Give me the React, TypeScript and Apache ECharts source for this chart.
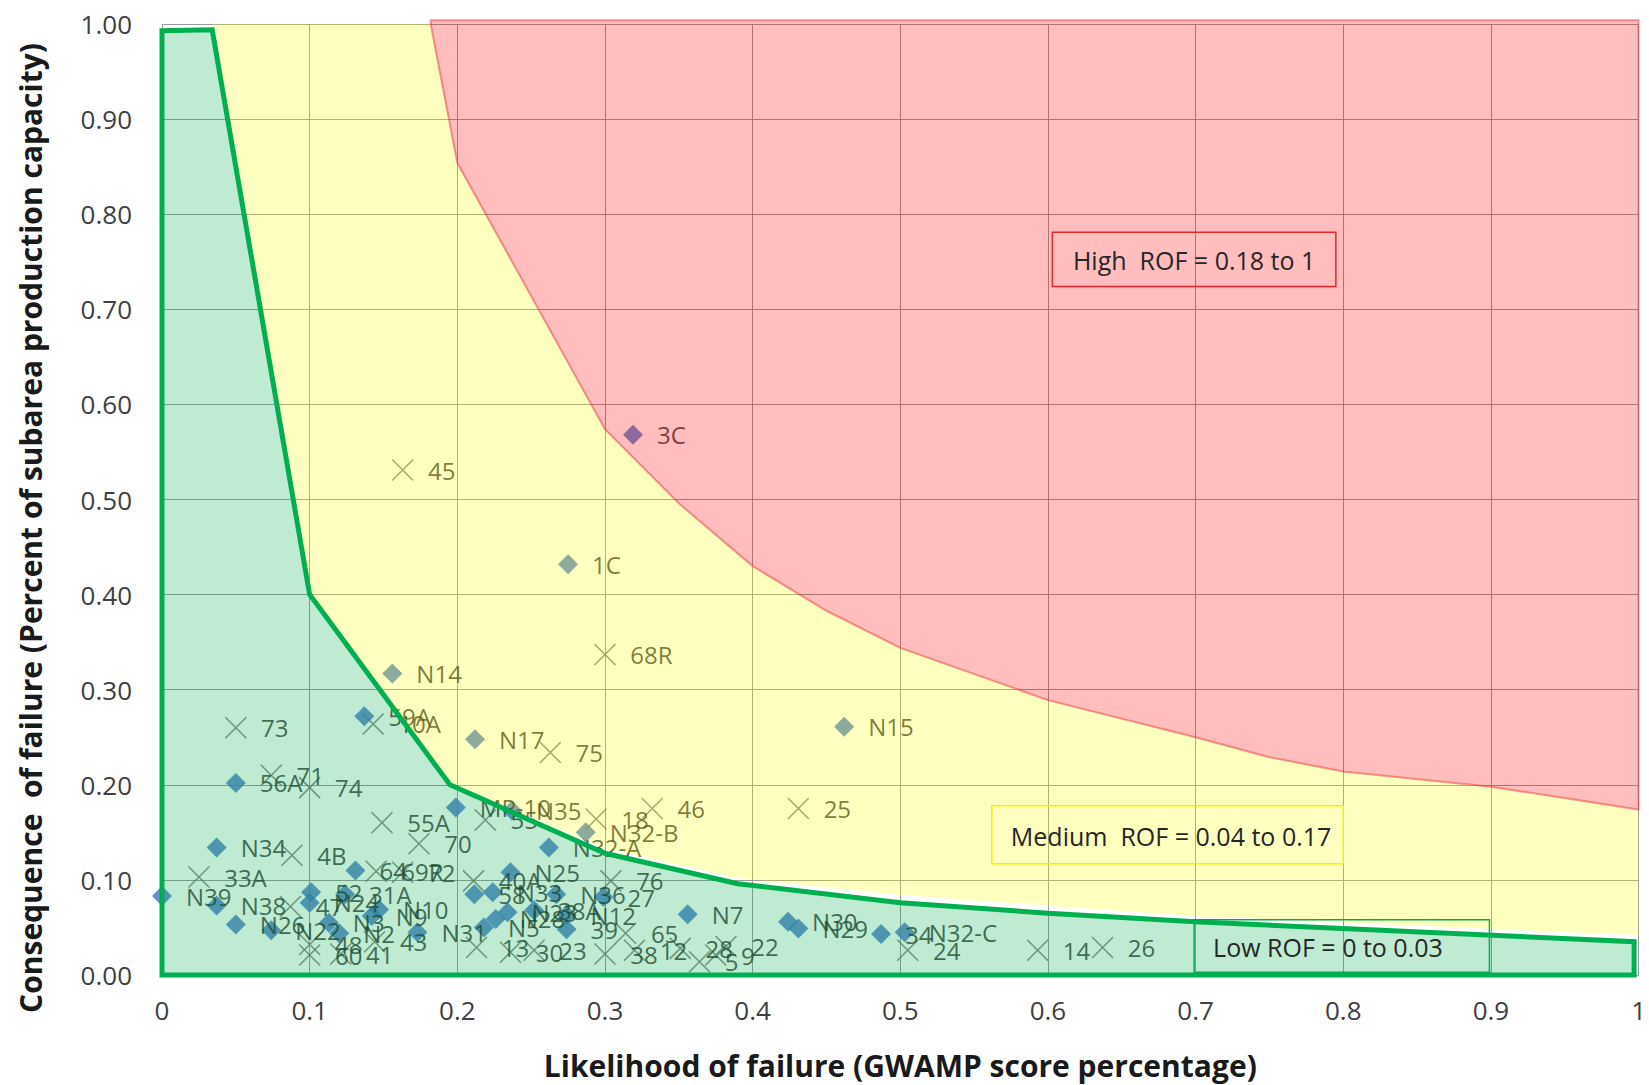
import { useEffect, useRef } from "react";
import * as echarts from "echarts";

// ---------- data ----------
// Diamond series: [label, likelihood, consequence]
const diamondPoints: [string, number, number][] = [
  ["3C", 0.319, 0.568],
  ["1C", 0.275, 0.432],
  ["N14", 0.156, 0.317],
  ["59A", 0.137, 0.272],
  ["N17", 0.212, 0.248],
  ["N15", 0.462, 0.261],
  ["56A", 0.05, 0.202],
  ["N34", 0.037, 0.134],
  ["N39", 0.0, 0.083],
  ["N38", 0.037, 0.073],
  ["N26", 0.05, 0.053],
  ["MP-10", 0.199, 0.176],
  ["N35", 0.237, 0.173],
  ["N32-B", 0.287, 0.15],
  ["N32-A", 0.262, 0.134],
  ["64", 0.131, 0.11],
  ["N25", 0.236, 0.108],
  ["52", 0.101, 0.087],
  ["N24", 0.1, 0.076],
  ["31A", 0.124, 0.085],
  ["N10", 0.147, 0.069],
  ["N22", 0.074, 0.047],
  ["N3", 0.113, 0.055],
  ["N2", 0.12, 0.044],
  ["N9", 0.142, 0.062],
  ["58", 0.2115, 0.085],
  ["N33", 0.224, 0.087],
  ["N36", 0.267, 0.085],
  ["27", 0.299, 0.082],
  ["N5", 0.218, 0.05],
  ["N28", 0.226, 0.059],
  ["N23", 0.234, 0.066],
  ["38A", 0.252, 0.068],
  ["N12", 0.274, 0.063],
  ["39", 0.274, 0.048],
  ["N31", 0.173, 0.045],
  ["N7", 0.356, 0.064],
  ["N30", 0.424, 0.056],
  ["N29", 0.431, 0.049],
  ["34", 0.487, 0.043],
  ["N32-C", 0.503, 0.045],
];

// Cross series: [label, likelihood, consequence]
const crossPoints: [string, number, number][] = [
  ["45", 0.163, 0.531],
  ["68R", 0.3, 0.337],
  ["10A", 0.143, 0.264],
  ["75", 0.263, 0.234],
  ["73", 0.05, 0.26],
  ["71", 0.074, 0.21],
  ["74", 0.1, 0.197],
  ["55A", 0.149, 0.16],
  ["55", 0.219, 0.163],
  ["18", 0.294, 0.164],
  ["46", 0.332, 0.175],
  ["25", 0.431, 0.175],
  ["70", 0.174, 0.138],
  ["4B", 0.088, 0.126],
  ["33A", 0.025, 0.103],
  ["69R", 0.145, 0.109],
  ["72", 0.163, 0.108],
  ["40A", 0.211, 0.099],
  ["76", 0.304, 0.099],
  ["47", 0.087, 0.072],
  ["48", 0.1, 0.032],
  ["60", 0.1, 0.021],
  ["41", 0.121, 0.022],
  ["43", 0.144, 0.035],
  ["13", 0.213, 0.029],
  ["30", 0.236, 0.024],
  ["23", 0.252, 0.026],
  ["38", 0.3, 0.022],
  ["65", 0.314, 0.044],
  ["12", 0.32, 0.026],
  ["28", 0.351, 0.028],
  ["5", 0.364, 0.014],
  ["9", 0.375, 0.021],
  ["22", 0.382, 0.03],
  ["24", 0.505, 0.026],
  ["14", 0.593, 0.026],
  ["26", 0.637, 0.029],
];

// Risk zone boundaries (likelihood, consequence)
const redEdge: [number, number][] = [
  [0.182, 1.0],
  [0.2, 0.854],
  [0.3, 0.574],
  [0.35, 0.496],
  [0.4, 0.43],
  [0.45, 0.383],
  [0.5, 0.344],
  [0.6, 0.289],
  [0.7, 0.25],
  [0.75, 0.229],
  [0.8, 0.214],
  [0.9, 0.198],
  [1.0, 0.174],
];
const redTopCorners: [number, number][] = [
  [1.0, 1.004],
  [0.182, 1.004],
];
const yellowLowerEdge: [number, number][] = [
  [1.0, 0.042],
  [0.7, 0.062],
  [0.5, 0.084],
  [0.39, 0.102],
  [0.3, 0.133],
  [0.195, 0.203],
  [0.1, 0.402],
  [0.034, 1.0],
];
const greenBoundary: [number, number][] = [
  [0, 0],
  [0, 0.993],
  [0.034, 0.994],
  [0.1, 0.4],
  [0.195, 0.2],
  [0.3, 0.128],
  [0.39, 0.096],
  [0.5, 0.076],
  [0.6, 0.065],
  [0.7, 0.056],
  [0.997, 0.035],
  [0.997, 0],
];

const xTitle = "Likelihood of failure (GWAMP score percentage)";
const yTitle = "Consequence  of failure (Percent of subarea production capacity)";

// annotation boxes in data space
const rofBoxes = [
  { text: "High  ROF = 0.18 to 1", x0: 0.603, y0: 0.781, x1: 0.795, y1: 0.724, stroke: "#e8262b", align: "center" },
  { text: "Medium  ROF = 0.04 to 0.17", x0: 0.562, y0: 0.178, x1: 0.8, y1: 0.117, stroke: "#f2f200", align: "left" },
  { text: "Low ROF = 0 to 0.03", x0: 0.699, y0: 0.058, x1: 0.899, y1: 0.003, stroke: "#00b050", align: "left" },
];

const FONT = '"Open Sans", "Noto Sans", sans-serif';

function polygonSeries(id: string, pts: [number, number][], style: any, z: number) {
  return {
    type: "custom",
    id,
    z,
    silent: true,
    clip: false,
    coordinateSystem: "cartesian2d",
    data: pts,
    encode: { x: 0, y: 1 },
    renderItem: (params: any, api: any) => {
      if (params.dataIndex !== 0) return null;
      const points = pts.map((p) => api.coord(p));
      return { type: "polygon", shape: { points }, style };
    },
  };
}

export default function App() {
  const ref = useRef<HTMLDivElement>(null);

  useEffect(() => {
    document.body.style.margin = "0";
    const el = ref.current!;
    const chart = echarts.init(el, null, { renderer: "svg" });

    const labelStyle = {
      show: true,
      position: "right",
      distance: 14,
      color: "#262626",
      fontSize: 24,
      fontFamily: FONT,
      formatter: "{b}",
    };

    const option: any = {
      animation: false,
      backgroundColor: "#ffffff",
      grid: { left: 162, top: 24, width: 1480, height: 954, containLabel: false },
      xAxis: {
        type: "value",
        min: 0,
        max: 1,
        interval: 0.1,
        name: xTitle,
        nameLocation: "middle",
        nameGap: 75,
        nameTextStyle: { fontFamily: FONT, fontSize: 30, fontWeight: "bold", color: "#1a1a1a" },
        axisLine: { show: false },
        axisTick: { show: false },
        axisLabel: {
          margin: 22,
          color: "#404040",
          fontSize: 26,
          fontFamily: FONT,
          formatter: (v: number) => (v === 0 ? "0" : v >= 0.9999 ? "1" : v.toFixed(1)),
        },
        splitLine: { show: true, lineStyle: { color: "#999999", width: 1 } },
      },
      yAxis: {
        type: "value",
        min: 0,
        max: 1,
        interval: 0.1,
        axisLine: { show: false },
        axisTick: { show: false },
        axisLabel: {
          margin: 30,
          color: "#404040",
          fontSize: 26,
          fontFamily: FONT,
          formatter: (v: number) => v.toFixed(2),
        },
        splitLine: { show: true, lineStyle: { color: "#999999", width: 1 } },
      },
      series: [
        {
          type: "scatter",
          name: "crosses",
          z: 1,
          silent: true,
          symbol: "path://M0,0L20,20M20,0L0,20",
          symbolSize: 21,
          itemStyle: { color: "rgba(0,0,0,0)", borderColor: "#6f6f6f", borderWidth: 1.5 },
          label: labelStyle,
          data: crossPoints.map(([n, x, y]) => ({ name: n, value: [x, y] })),
        },
        {
          type: "scatter",
          name: "diamonds",
          z: 1,
          silent: true,
          symbol: "diamond",
          symbolSize: 20,
          itemStyle: { color: "#4472c4" },
          label: labelStyle,
          data: diamondPoints.map(([n, x, y]) => ({ name: n, value: [x, y] })),
        },
        polygonSeries(
          "yellow",
          [[0.034, 1.0], ...redEdge, ...yellowLowerEdge],
          { fill: "rgba(255,255,0,0.25)", stroke: "none" },
          3
        ),
        polygonSeries(
          "red",
          [...redEdge, ...redTopCorners],
          { fill: "rgba(255,0,0,0.26)", stroke: "rgba(240,70,70,0.55)", lineWidth: 2 },
          3
        ),
        polygonSeries(
          "green",
          greenBoundary,
          { fill: "rgba(0,176,80,0.255)", stroke: "#00b050", lineWidth: 5, lineJoin: "miter" },
          4
        ),
      ],
    };

    chart.setOption(option);

    const toPx = (x: number, y: number) => chart.convertToPixel({ xAxisIndex: 0, yAxisIndex: 0 }, [x, y]) as number[];

    const graphics: any[] = [];
    rofBoxes.forEach((b, i) => {
      const p0 = toPx(b.x0, b.y0);
      const p1 = toPx(b.x1, b.y1);
      const w = p1[0] - p0[0];
      const h = p1[1] - p0[1];
      graphics.push({
        type: "rect",
        id: "box" + i,
        z: 10,
        silent: true,
        shape: { x: p0[0], y: p0[1], width: w, height: h },
        style: { fill: "none", stroke: b.stroke, lineWidth: 1.5 },
      });
      graphics.push({
        type: "text",
        id: "boxText" + i,
        z: 11,
        silent: true,
        x: b.align === "center" ? p0[0] + w / 2 : p0[0] + 19,
        y: p0[1] + h / 2 + 1,
        style: {
          text: b.text,
          fill: "#262626",
          font: `25px ${FONT}`,
          textAlign: b.align,
          textVerticalAlign: "middle",
        },
      });
    });
    graphics.push({
      type: "text",
      id: "yTitle",
      silent: true,
      x: 30,
      y: 528,
      rotation: Math.PI / 2,
      style: {
        text: yTitle,
        fill: "#1a1a1a",
        font: `bold 30px ${FONT}`,
        textAlign: "center",
        textVerticalAlign: "middle",
      },
    });
    chart.setOption({ graphic: graphics });

    return () => {
      chart.dispose();
    };
  }, []);

  return <div ref={ref} style={{ width: 1649, height: 1085 }} />;
}
